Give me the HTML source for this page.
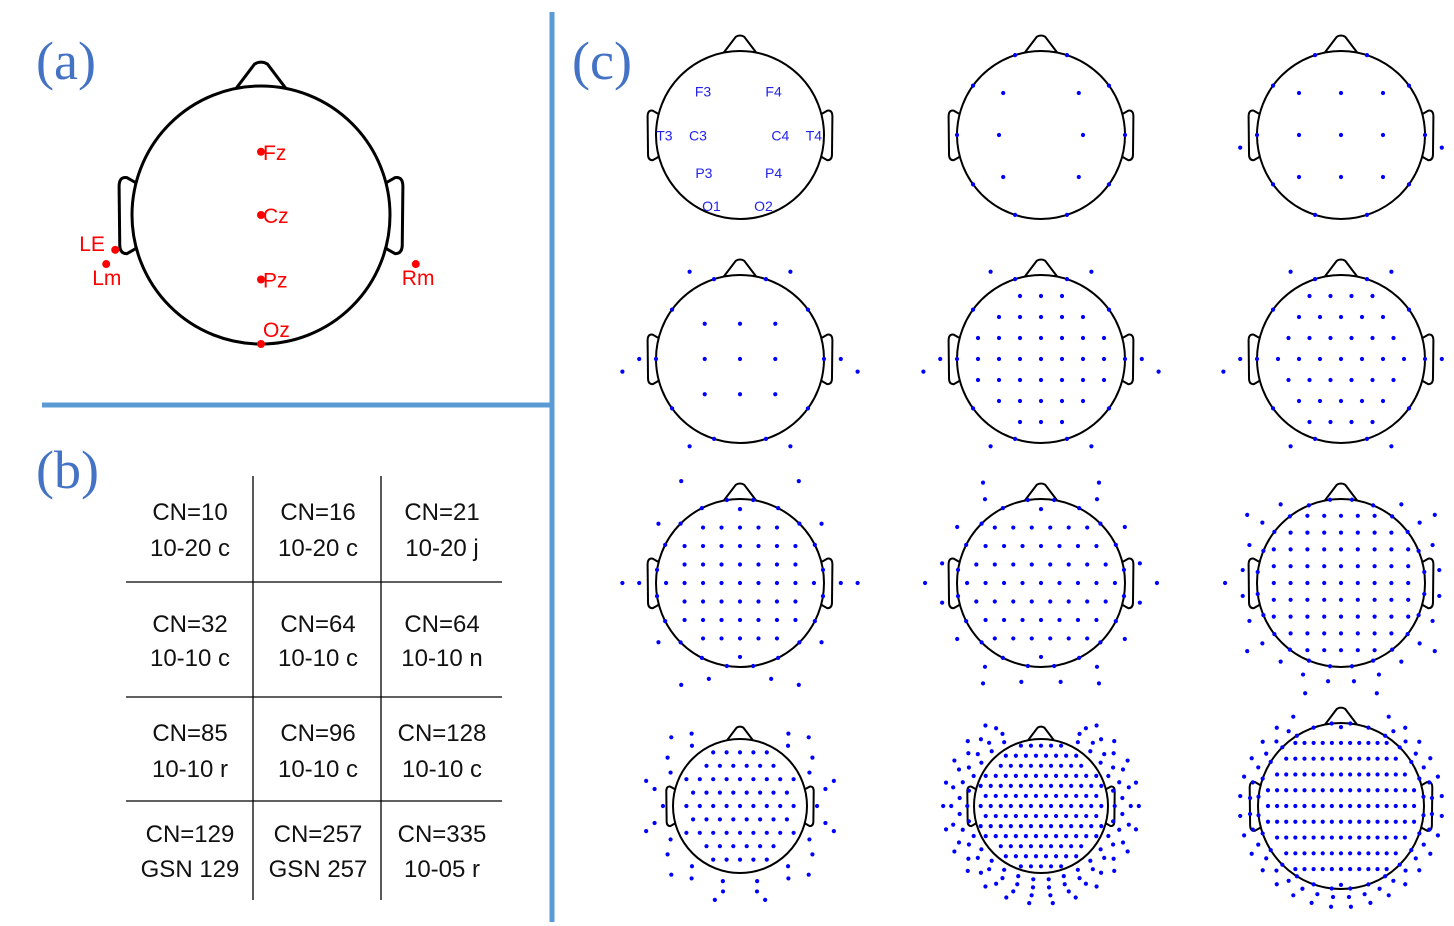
<!DOCTYPE html>
<html><head><meta charset="utf-8"><style>
body{margin:0;background:#fff;width:1454px;height:926px;overflow:hidden;font-family:"Liberation Sans",sans-serif}
svg{position:absolute;left:0;top:0}
</style></head><body>
<svg id="fig" width="1454" height="926" viewBox="0 0 1454 926">
<rect x="549.5" y="12" width="5" height="910" fill="#5b9bd5"/>
<rect x="42" y="402.5" width="510" height="5" fill="#5b9bd5"/>
<g font-family="Liberation Serif,serif" font-size="54" fill="#4472c4">
<text x="36" y="79">(a)</text>
<text x="36" y="488">(b)</text>
<text x="572" y="79">(c)</text>
</g>
<g id="heads"></g>
<g id="dots"></g>
<g id="table" stroke="#000" stroke-width="1.3">
<line x1="253" y1="476" x2="253" y2="900"/><line x1="381" y1="476" x2="381" y2="900"/>
<line x1="126" y1="582" x2="502" y2="582"/><line x1="126" y1="697" x2="502" y2="697"/><line x1="126" y1="801" x2="502" y2="801"/>
</g>
<g id="tabletext" font-size="24" fill="#111" text-anchor="middle"></g>
<g id="labelsA" font-size="21" fill="#f00"></g>
</svg>
<script>
const NS='http://www.w3.org/2000/svg';
function mk(t,a,p){const e=document.createElementNS(NS,t);for(const k in a)e.setAttribute(k,a[k]);p.appendChild(e);return e;}
const heads=document.getElementById('heads');
function head(cx,cy,r,name){
 const g=mk('g',{fill:'#fff',stroke:'#000','stroke-width':r>100?3:2,'stroke-linejoin':'round'},heads);
 
 
 mk('path',{d:`M${cx-0.19*r},${cy-0.985*r} L${cx-0.05*r},${cy-1.17*r} Q${cx},${cy-1.2*r} ${cx+0.05*r},${cy-1.17*r} L${cx+0.19*r},${cy-0.985*r} Z`},g);
 for(const s of [-1,1]){
  const x0=cx+s*0.97*r, xo=cx+s*1.1*r, xo2=cx+s*1.095*r;
  mk('path',{d:`M${x0},${cy-0.25*r} L${cx+s*1.04*r},${cy-0.29*r} Q${xo},${cy-0.3*r} ${xo},${cy-0.22*r} L${xo2},${cy+0.23*r} Q${xo2},${cy+0.3*r} ${cx+s*1.04*r},${cy+0.3*r} L${x0},${cy+0.26*r} Z`},g);
 }
 mk('circle',{cx:cx,cy:cy,r:r},g);
}
// panel (a)
head(261,215,129,'reference-head');
const aNames=['Fz','Cz','Pz','Oz','LE','Lm','Rm'];
const aX=[0,0,0,0,-1.13,-1.2,1.2];
const aY=[-0.49,0,0.5,1,0.27,0.38,0.38];
const LA=document.getElementById('labelsA');
aNames.forEach((n,i)=>{
 const x=261+aX[i]*129,y=215+aY[i]*129;
 const c=mk('circle',{cx:x,cy:y,r:4,fill:'#f00'},LA);
 
 
 let tx=x+2,ty=y+8;
 if(n==='Oz'){ty=y-7;} if(n==='LE'){tx=x-36;ty=y+1;} if(n==='Lm'||n==='Rm'){tx=x-14;ty=y+21;}
 const t=mk('text',{x:tx,y:ty},LA);t.textContent=n;
 
 
});
// table
const cnVals=['CN=10','CN=16','CN=21','CN=32','CN=64','CN=64','CN=85','CN=96','CN=128','CN=129','CN=257','CN=335'];
const sysVals=['10-20 c','10-20 c','10-20 j','10-10 c','10-10 c','10-10 n','10-10 r','10-10 c','10-10 c','GSN 129','GSN 257','10-05 r'];
const colX=[190,318,442], rowY1=[520,632,741,842], rowY2=[556,666,777,877];
const TT=document.getElementById('tabletext');
cnVals.forEach((v,i)=>{
 const c=i%3,r=Math.floor(i/3);
 const t1=mk('text',{x:colX[c],y:rowY1[r]},TT);t1.textContent=v;
 
 const t2=mk('text',{x:colX[c],y:rowY2[r]},TT);t2.textContent=sysVals[i];
 
});
// panel (c)
const hx=[740,1041,1341], hy=[135,359,583,806];
const hr=[84,84,84,84,84,84,84,84,84,67,67,83];
const gridSp=[0,0,0.5,0.42,0.25,0.25,0.22,0.22,0.2,0.2,0.15,0.11];
const gridSpY=[0,0,0.5,0.42,0.25,0.25,0.22,0.22,0.2,0.2,0.15,0.19];
const gridMax=[0,0,0.75,0.8,0.9,0.9,0.9,0.88,0.9,0.92,0.95,0.95];
const rimN=[0,10,10,10,10,10,20,20,24,0,0,28];
const outerR=[[],[],[1.2],[1.2,1.4],[1.2,1.4],[1.2,1.4],[1.2,1.4],[1.2,1.38],[1.18,1.38],[1.15,1.3,1.45],[1.1,1.22,1.34,1.46],[1.1,1.22]];
const outerN=[[],[],[2],[6,2],[6,2],[6,2],[10,6],[16,6],[24,10],[14,16,12],[30,32,30,26],[36,32]];
for(let i=0;i<12;i++){
 head(hx[i%3],hy[Math.floor(i/3)],hr[i],'montage-head-'+(i+1));
}
const g2=document.getElementById('dots');

g2.setAttribute('fill','#00f');
function dot(x,y){const c=mk('circle',{cx:x,cy:y,r:2.1},g2);}
for(let i=0;i<12;i++){
 const cx=hx[i%3],cy=hy[Math.floor(i/3)],r=hr[i];
 if(i===0){
  const lbl=['F3','F4','T3','C3','C4','T4','P3','P4','O1','O2'];
  const lx=[-0.44,0.4,-0.9,-0.5,0.48,0.88,-0.43,0.4,-0.34,0.28];
  const ly=[-0.5,-0.5,0.02,0.02,0.02,0.02,0.47,0.47,0.86,0.86];
  lbl.forEach((n,k)=>{const t=mk('text',{x:cx+lx[k]*r,y:cy+ly[k]*r,'font-size':14,fill:'#22e','text-anchor':'middle','dominant-baseline':'middle'},g2);t.textContent=n;});
  continue;
 }
 for(let k=0;k<rimN[i];k++){const a=(k+0.5)/rimN[i]*2*Math.PI;dot(cx+r*Math.sin(a),cy-r*Math.cos(a));}
 const s=gridSp[i],sy=gridSpY[i];
 if(i===1){[[-0.45,-0.5],[0.45,-0.5],[-0.5,0],[0.5,0],[-0.45,0.5],[0.45,0.5]].forEach(p=>dot(cx+p[0]*r,cy+p[1]*r));}
 else if(s>0){
  const nx=Math.floor(gridMax[i]/s)+1, ny=Math.floor(gridMax[i]/sy)+1;
  for(let gy=-ny;gy<=ny;gy++)for(let gx=-nx;gx<=nx;gx++){
   const off=(i===5||i===7||i===9||i===10)&&(gy%2)?0.5:0;
   const x=(gx+off)*s,y=gy*sy;
   if(Math.hypot(x,y)<=gridMax[i])dot(cx+x*r,cy+y*r);
  }
 }
 outerR[i].forEach((R,j)=>{const N=outerN[i][j];for(let k=0;k<N;k++){const a=(k+0.5)/N*2*Math.PI;const sa=Math.sin(a),ca=Math.cos(a);if(N<=2){dot(cx+(k?1:-1)*R*r,cy+0.15*r);continue;}if(ca>0.9)continue;dot(cx+R*r*sa,cy-R*r*ca);}});
}
</script>
</body></html>
